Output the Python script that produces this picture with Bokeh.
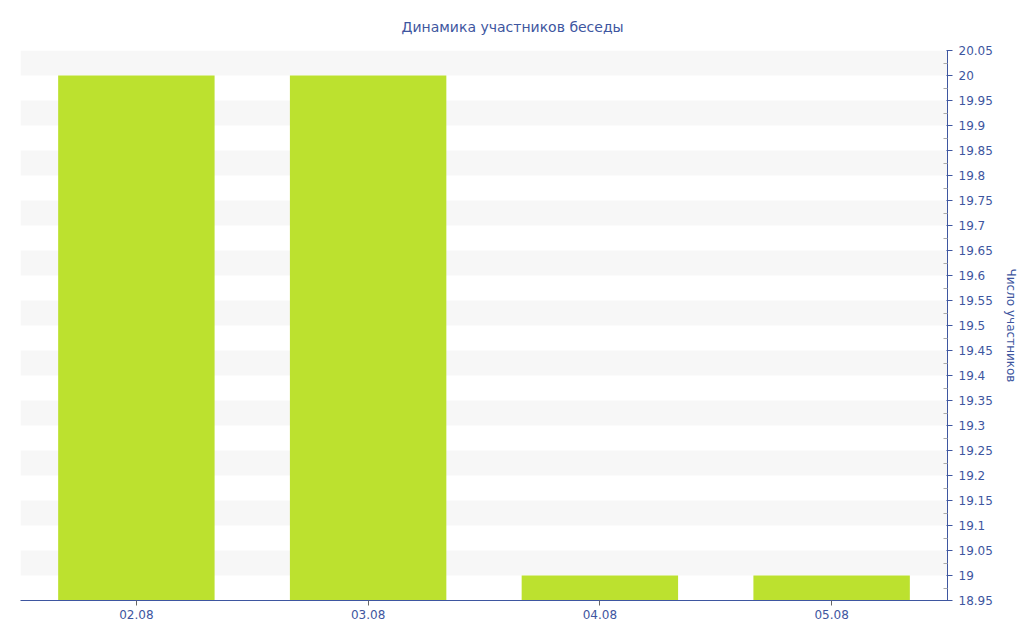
from bokeh.plotting import figure
from bokeh.models import FixedTicker, Range1d, ColumnDataSource, Title
from bokeh.embed import file_html
from bokeh.resources import INLINE

title_text = "Динамика участников беседы"
y_label = "Число участников"
dates = ["02.08", "03.08", "04.08", "05.08"]
members = [20, 20, 19, 19]
y_min, y_max = 18.95, 20.05
y_ticks = [round(18.95 + 0.05 * i, 2) for i in range(23)]
y_minor = [round(18.975 + 0.05 * i, 3) for i in range(22)]

BLUE = "#3e56a0"
FONT = "DejaVu Sans"

p = figure(x_range=dates, y_range=Range1d(y_min, y_max), width=1020, height=621,
           output_backend="svg", toolbar_location=None, y_axis_location="right",
           min_border_left=20, min_border_top=0, min_border_right=10, min_border_bottom=10)
p.outline_line_color = None

src = ColumnDataSource(dict(x=dates, top=members, bottom=[y_min] * len(dates)))
p.vbar(x="x", top="top", bottom="bottom", width=0.675, source=src,
       fill_color="#bce12f", line_color=None)

t = Title(text=title_text, align="left", text_color=BLUE, text_font=FONT,
          text_font_size="14px", text_font_style="normal", standoff=32, offset=381)
p.add_layout(t, "above")

p.xgrid.grid_line_color = None
p.ygrid.grid_line_color = None
p.ygrid.band_fill_color = "#f7f7f7"
p.ygrid.band_fill_alpha = 1.0
p.ygrid.ticker = FixedTicker(ticks=y_ticks)

ya = p.yaxis[0]
ya.ticker = FixedTicker(ticks=y_ticks, minor_ticks=y_minor)
ya.axis_label = y_label
ya.axis_line_color = BLUE
ya.major_tick_line_color = BLUE
ya.major_tick_out = 5
ya.major_tick_in = 1
ya.minor_tick_line_color = "#aaaaaa"
ya.minor_tick_in = 4
ya.minor_tick_out = 0
ya.major_label_text_color = BLUE
ya.major_label_text_font = FONT
ya.major_label_text_font_size = "12px"
ya.major_label_standoff = 6
ya.axis_label_text_color = BLUE
ya.axis_label_text_font = FONT
ya.axis_label_text_font_size = "12px"
ya.axis_label_text_font_style = "normal"
ya.axis_label_standoff = 8

xa = p.xaxis[0]
xa.axis_line_color = BLUE
xa.major_tick_line_color = "#666666"
xa.major_tick_out = 5
xa.major_tick_in = 0
xa.minor_tick_line_color = None
xa.major_label_text_color = BLUE
xa.major_label_text_font = FONT
xa.major_label_text_font_size = "12px"
xa.major_label_standoff = 4

open("out.html", "w").write(file_html(p, INLINE))
